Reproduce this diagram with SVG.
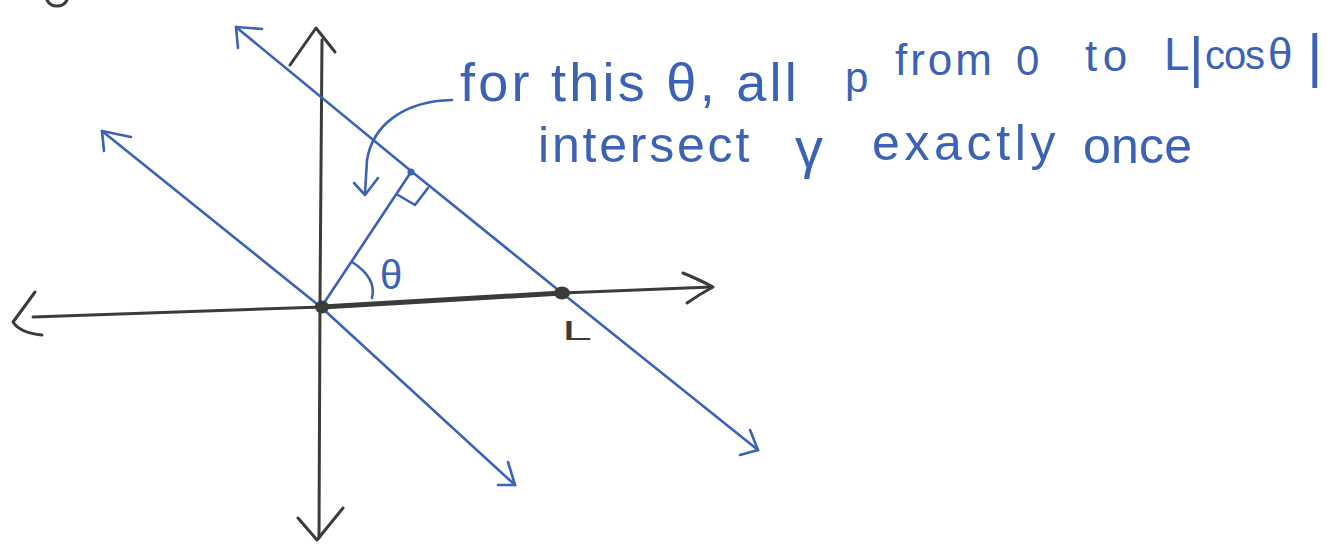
<svg xmlns="http://www.w3.org/2000/svg" width="1327" height="545" viewBox="0 0 1327 545">
<style>
.ax{fill:none;stroke:#3a3c39;stroke-width:3;stroke-linecap:round;stroke-linejoin:round}
.bl{fill:none;stroke:#3b62b4;stroke-width:2.6;stroke-linecap:round;stroke-linejoin:round}
.bt{fill:#3b62b4;font-family:"Liberation Sans",Arial,sans-serif}
.dt{fill:#3a3c39;font-family:"Liberation Sans",Arial,sans-serif}
</style>
<rect width="1327" height="545" fill="#ffffff"/>
<g id="fragment">
<path class="ax" d="M47,0 Q50,6 57,6 Q64,6 67,0"/>
</g>
<g id="axes">
<path class="ax" d="M322,40 L320,300 L319,538"/>
<path class="ax" d="M290,65 L316,28 L335,52"/>
<path class="ax" d="M298,518 L317,540 L343,508"/>
<path class="ax" d="M33,317 L322,307"/>
<path class="ax" d="M562,293 L711,287"/>
<path class="ax" style="stroke-width:5" d="M322,307 L562,293"/>
<path class="ax" d="M35,292 Q22,310 13,322 Q20,333 42,335"/>
<path class="ax" d="M683,273 Q700,280 713,287 Q700,294 687,303"/>
</g>
<g id="blue-lines">
<path class="bl" d="M236,27 L411,171 L562,293 L758,450"/>
<path class="bl" d="M262,29 L236,27 L238,48"/>
<path class="bl" d="M750,430 L758,450 L740,455"/>
<path class="bl" d="M102,131 L322,308 L515,485"/>
<path class="bl" d="M131,137 L102,131 L104,151"/>
<path class="bl" d="M508,462 L515,485 L498,485"/>
<path class="bl" d="M322,306 L411,172"/>
<path class="bl" d="M398,195 L415,205 L428,188"/>
<path class="bl" d="M352,262 Q377,278 372,298"/>
</g>
<g id="points">
<ellipse cx="322" cy="307" rx="7" ry="6.5" fill="#3a3c39"/>
<ellipse cx="562" cy="293" rx="8" ry="6.5" fill="#3a3c39"/>
<circle cx="411" cy="172" r="3.5" fill="#3b62b4"/>
</g>
<g id="connectors">
<path class="bl" d="M452,100 C405,101 373,124 367,160 L365,193"/>
<path class="bl" d="M354,183 L365,195 L378,178"/>
</g>
<g id="labels">
<text class="bt" x="391" y="289" font-size="40" text-anchor="middle">θ</text>
<text class="dt" x="562" y="340" font-size="28" textLength="30" lengthAdjust="spacingAndGlyphs">L</text>
<text class="bt"><tspan x="460" y="101" font-size="54" textLength="355">for this θ, all </tspan><tspan x="845" y="92" font-size="42" textLength="36">p </tspan><tspan x="895" y="75" font-size="44" textLength="112">from </tspan><tspan x="1016" y="75" font-size="42" textLength="38">0 </tspan><tspan x="1085" y="71" font-size="44" textLength="60">to </tspan><tspan x="1164" y="70" font-size="46" textLength="25">L</tspan><tspan x="1189" y="76" font-size="56">|</tspan><tspan x="1205" y="69" font-size="40" textLength="60">cos</tspan><tspan x="1268" y="69" font-size="44" textLength="34">θ</tspan><tspan x="1307" y="76" font-size="60">|</tspan></text>
<text class="bt"><tspan x="538" y="162" font-size="50" textLength="228">intersect </tspan><tspan x="795" y="167" font-size="56" textLength="44">γ </tspan><tspan x="872" y="160" font-size="50" textLength="202">exactly </tspan><tspan x="1083" y="163" font-size="50" textLength="109">once</tspan></text>
</g>
</svg>
